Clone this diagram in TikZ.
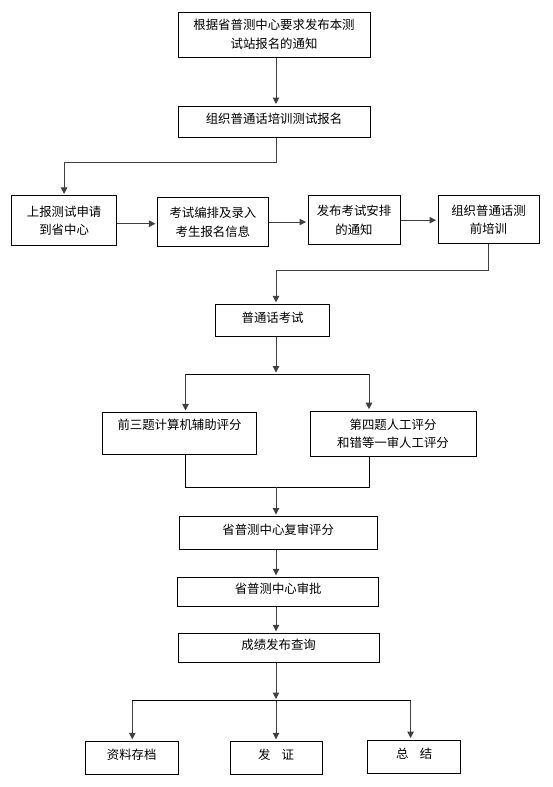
\documentclass[tikz,border=0pt]{standalone}
\usepackage{fontspec}
\setmainfont{Noto Sans CJK SC}
\usetikzlibrary{arrows.meta}
\newcommand{\liftt}[1]{\raisebox{3pt}[\height][\depth]{#1}}
\begin{document}
\begin{tikzpicture}[x=1pt,y=-1pt,
  box/.style={draw, line width=1pt, inner sep=0pt, align=center, font=\fontsize{12.4}{18.7}\selectfont},
  arr/.style={draw=black!75, line width=1pt, shorten >=1.5pt, -{Triangle[width=6.5pt,length=6.5pt]}},
  ln/.style={draw=black, line width=1pt}]
\useasboundingbox (0,0) rectangle (553,787);
\fill[white] (0,0) rectangle (553,787);

\node[box, minimum width=192pt, minimum height=45pt] (b1) at (274,34.5) {根据省普测中心要求发布本测\\试站报名的通知};
\node[box, minimum width=192pt, minimum height=31pt] (b2) at (274,121.5) {\liftt{组织普通话培训测试报名}};
\node[box, minimum width=105pt, minimum height=49.5pt] (b3) at (64.1,220.7) {上报测试申请\\到省中心};
\node[box, minimum width=111pt, minimum height=49.4pt] (b4) at (212.9,222) {考试编排及录入\\考生报名信息};
\node[box, minimum width=92pt, minimum height=49.5pt] (b5) at (354,220.2) {发布考试安排\\的通知};
\node[box, minimum width=101pt, minimum height=48.5pt] (b6) at (488.5,219.7) {组织普通话测\\前培训};
\node[box, minimum width=114pt, minimum height=32pt] (b7) at (272.6,320.3) {\liftt{普通话考试}};
\node[box, minimum width=154pt, minimum height=41.7pt] (b8) at (179.5,433.3) {前三题计算机辅助评分\\\mbox{}};
\node[box, minimum width=166pt, minimum height=45pt] (b9) at (393,433.7) {第四题人工评分\\和错等一审人工评分};
\node[box, minimum width=198.4pt, minimum height=32.8pt] (b10) at (278.2,532.9) {\liftt{省普测中心复审评分}};
\node[box, minimum width=200.5pt, minimum height=29.4pt] (b11) at (278.2,592) {\liftt{省普测中心审批}};
\node[box, minimum width=201.2pt, minimum height=29.4pt] (b12) at (278.6,648) {\liftt{成绩发布查询}};
\node[box, minimum width=93.3pt, minimum height=33pt] (b13) at (131.7,757.8) {\liftt{资料存档}};
\node[box, minimum width=92pt, minimum height=33pt] (b14) at (276,757.8) {\liftt{发\hspace{0.9em}证}};
\node[box, minimum width=93.5pt, minimum height=33.3pt] (b15) at (414.2,756.7) {\liftt{总\hspace{0.9em}结}};

\coordinate (sp) at (276,0);
\coordinate (t1) at (276,162.3);
\coordinate (t2) at (276,270);
\coordinate (bm) at (276,374);
\coordinate (bl) at (185.5,374);
\coordinate (brr) at (369,374);
\coordinate (jl) at (185.5,487);
\coordinate (jr) at (369,487);
\coordinate (jm) at (276,487);
\coordinate (kl) at (132.3,700.5);
\coordinate (km) at (276,700.5);
\coordinate (kr) at (410.6,700.5);

\draw[arr] (b1.south -| sp) -- (b2.north -| sp);
\draw[arr] (b2.south -| sp) -- (t1) -| (b3.north);
\draw[arr] ([yshift=-3pt]b3.east) -- ([yshift=-3pt]b3.east -| b4.west);
\draw[arr] (b4.east) -- (b4.east -| b5.west);
\draw[arr] (b5.east) -- (b5.east -| b6.west);
\draw[arr] (b6.south) |- (t2) -- (b7.north -| t2);
\draw[arr] (b7.south -| bm) -- (bm);
\draw[ln] (bl) -- (brr);
\draw[arr] (bl) -- (bl |- b8.north);
\draw[arr] (brr) -- (brr |- b9.north);
\draw[ln] (bl |- b8.south) -- (jl) -- (jr) -- (brr |- b9.south);
\draw[arr] (jm) -- (b10.north -| jm);
\draw[arr] (b10.south -| sp) -- (b11.north -| sp);
\draw[arr] (b11.south -| sp) -- (b12.north -| sp);
\draw[arr] (b12.south -| km) -- (km);
\draw[ln] (kl) -- (kr);
\draw[arr] (kl) -- (kl |- b13.north);
\draw[arr] (km) -- (b14.north -| km);
\draw[arr] (kr) -- (kr |- b15.north);
\end{tikzpicture}
\end{document}
